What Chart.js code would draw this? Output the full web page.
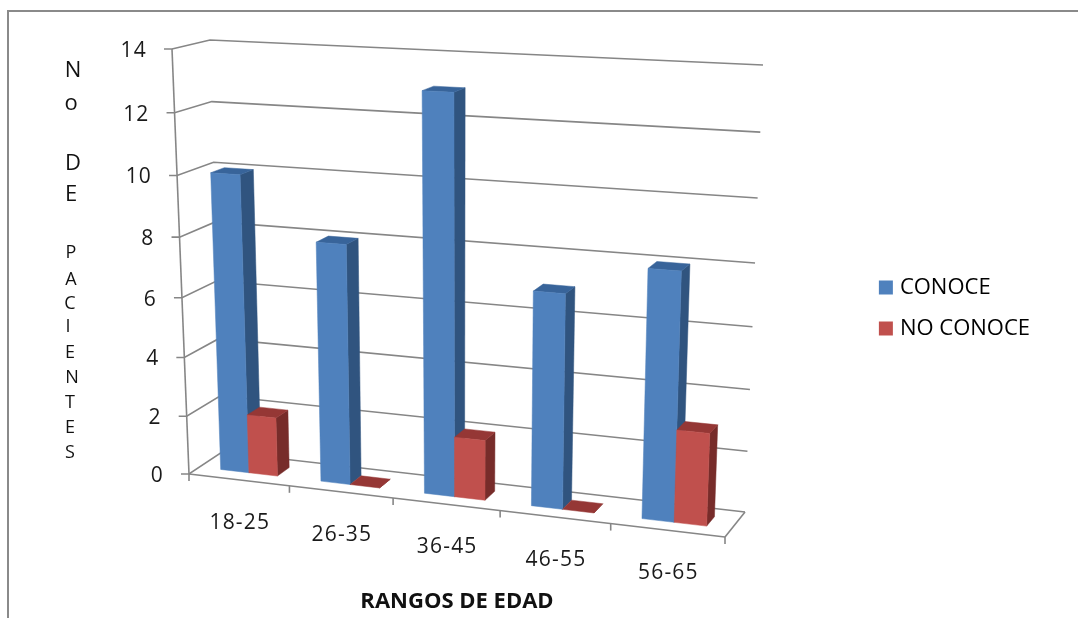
<!DOCTYPE html>
<html>
<head>
<meta charset="utf-8">
<script src="https://cdn.jsdelivr.net/npm/chart.js@4/dist/chart.umd.js"></script>
<style>
html,body{margin:0;padding:0;background:#fff;width:1078px;height:618px;overflow:hidden}
#wrap{position:absolute;left:0;top:0;width:1078px;height:618px}
canvas{filter:blur(0.45px)}
</style>
</head>
<body>
<div id="wrap"><canvas id="c" width="1078" height="618"></canvas></div>
<script>
const categories = ['18-25','26-35','36-45','46-55','56-65'];
const conoce = [10, 8, 13, 7, 8];
const noConoce = [2, 0, 2, 0, 3];
const seriesNames = ['CONOCE','NO CONOCE'];
const yTitleLetters = ['N','o','D','E','P','A','C','I','E','N','T','E','S'];
const xTitle = 'RANGOS DE EDAD';

const FONT = '"Open Sans", sans-serif';
const TEXT = '#1a1a1a';
const GRID = '#868686';
const FACE = ['#4F81BD','#C0504D'];
const TOP  = ['#38649A','#953735'];
const SIDE = ['#30547F','#772C2A'];

// camera calibration of the 3D box: corners as (u,v) on the front and back planes
const frontPlane = [[189,474],[725,537],[741,78],[172,49]];
const backPlane  = [[222,452],[745,512],[763,65],[210,40]];
const barZ = [0.32, 0.70];
const yLetterPos = [[73,71,22],[71,104,22],[73,164,22],[71,195,22],[71,253,18],[71,280,18],[70,304,18],[68,327,18],[70,353,18],[72,378,18],[70,403,18],[70,428,18],[70,453,18]];

function homography(q){
  const [x0,y0]=q[0],[x1,y1]=q[1],[x2,y2]=q[2],[x3,y3]=q[3];
  const dx1=x1-x2,dx2=x3-x2,sx=x0-x1+x2-x3,dy1=y1-y2,dy2=y3-y2,sy=y0-y1+y2-y3;
  const den=dx1*dy2-dx2*dy1;
  const g=(sx*dy2-dx2*sy)/den,h=(dx1*sy-sx*dy1)/den;
  const a=x1-x0+g*x1,b=x3-x0+h*x3,d=y1-y0+g*y1,e=y3-y0+h*y3;
  return (u,v)=>{const w=g*u+h*v+1;return [(a*u+b*v+x0)/w,(d*u+e*v+y0)/w];};
}
const Hf=homography(frontPlane),Hb=homography(backPlane);
function P(u,v,z){const f=Hf(u,v),b=Hb(u,v);return [f[0]+(b[0]-f[0])*z,f[1]+(b[1]-f[1])*z];}

function line(ctx,a,b,w,col){ctx.beginPath();ctx.moveTo(a[0],a[1]);ctx.lineTo(b[0],b[1]);ctx.lineWidth=w;ctx.strokeStyle=col||GRID;ctx.stroke();}
function poly(ctx,pts,col){ctx.beginPath();pts.forEach((p,i)=>i?ctx.lineTo(p[0],p[1]):ctx.moveTo(p[0],p[1]));ctx.closePath();ctx.fillStyle=col;ctx.fill();ctx.strokeStyle=col;ctx.lineWidth=0.5;ctx.stroke();}

const box3d={
  id:'box3d',
  beforeDatasetsDraw(chart){
    const ctx=chart.ctx,xs=chart.scales.x,ys=chart.scales.y;
    const vOf=px=>(ys.bottom-px)/(ys.bottom-ys.top);
    ctx.save();
    // outer frame
    line(ctx,[8,11],[1078,11],2,'#8a8a8a');
    line(ctx,[8,10],[8,618],2,'#8a8a8a');
    ctx.letterSpacing='1.2px';
    // walls
    ys.ticks.forEach((t,i)=>{
      const v=vOf(ys.getPixelForTick(i));
      const a=P(0,v,0),b=P(0,v,1),c=P(1,v,1);
      ctx.beginPath();ctx.moveTo(a[0]-8,a[1]);ctx.lineTo(a[0],a[1]);ctx.lineTo(b[0],b[1]);ctx.lineTo(c[0],c[1]);
      ctx.lineWidth=1.6;ctx.strokeStyle=GRID;ctx.stroke();
      ctx.fillStyle=TEXT;ctx.font='21px '+FONT;ctx.textAlign='right';ctx.textBaseline='middle';
      ctx.fillText(t.label,a[0]-25,a[1]+2);
    });
    // floor and axes
    line(ctx,P(0,0,0),P(0,1,0),1.6);
    line(ctx,P(0,0,0),P(1,0,0),1.6);
    line(ctx,P(1,0,0),P(1,0,1),1.6);
    const n=categories.length;
    for(let i=0;i<=n;i++){
      const u=i/n,a=P(u,0,0);
      line(ctx,a,[a[0],a[1]+7],1.6);
    }
    xs.ticks.forEach((t,i)=>{
      const u=(xs.getPixelForTick(i)-xs.left)/(xs.right-xs.left),a=P(u,0,0);
      ctx.fillStyle=TEXT;ctx.font='21px '+FONT;ctx.textAlign='center';ctx.textBaseline='middle';
      ctx.fillText(t.label,a[0]+1,a[1]+43);
    });
    ctx.letterSpacing='0px';
    // axis titles
    ctx.fillStyle='#111';ctx.textAlign='center';ctx.textBaseline='middle';
    yTitleLetters.forEach((ch,i)=>{const p=yLetterPos[i];ctx.font=p[2]+'px '+FONT;ctx.fillText(ch,p[0],p[1]);});
    ctx.font='bold 22px '+FONT;ctx.fillText(xTitle,457,602);
    ctx.restore();
  },
  beforeDatasetDraw(){return false;},
  afterDatasetsDraw(chart){
    const ctx=chart.ctx,xs=chart.scales.x,ys=chart.scales.y;
    const uOf=px=>(px-xs.left)/(xs.right-xs.left),vOf=px=>(ys.bottom-px)/(ys.bottom-ys.top);
    ctx.save();
    categories.forEach((_,i)=>{
      chart.data.datasets.forEach((ds,k)=>{
        const el=chart.getDatasetMeta(k).data[i];
        const u0=uOf(el.x-el.width/2),u1=uOf(el.x+el.width/2),v=vOf(el.y);
        const [z0,z1]=barZ;
        poly(ctx,[P(u1,0,z0),P(u1,0,z1),P(u1,v,z1),P(u1,v,z0)],SIDE[k]);
        poly(ctx,[P(u0,v,z0),P(u1,v,z0),P(u1,v,z1),P(u0,v,z1)],TOP[k]);
        if(v>0) poly(ctx,[P(u0,0,z0),P(u1,0,z0),P(u1,v,z0),P(u0,v,z0)],FACE[k]);
      });
    });
    ctx.restore();
  }
};

new Chart(document.getElementById('c'),{
  type:'bar',
  data:{labels:categories,datasets:[
    {label:seriesNames[0],data:conoce,backgroundColor:FACE[0],borderWidth:0,categoryPercentage:0.57,barPercentage:1},
    {label:seriesNames[1],data:noConoce,backgroundColor:FACE[1],borderWidth:0,categoryPercentage:0.57,barPercentage:1}
  ]},
  plugins:[box3d],
  options:{
    responsive:false,animation:false,
    layout:{padding:{left:0,right:38,top:0,bottom:2}},
    plugins:{
      title:{display:false},tooltip:{enabled:false},
      legend:{display:true,position:'right',align:'center',
        labels:{boxWidth:6,boxHeight:6,padding:19,color:TEXT,font:{family:'Open Sans',size:22},
          generateLabels(chart){
            return chart.data.datasets.map((d,i)=>({text:d.label,fillStyle:FACE[i],strokeStyle:FACE[i],lineWidth:8,datasetIndex:i,hidden:false}));
          }}}
    },
    scales:{
      x:{grid:{display:false},border:{display:false},ticks:{display:false}},
      y:{min:0,max:14,ticks:{display:false,stepSize:2},grid:{display:false},border:{display:false}}
    }
  }
});
</script>
</body>
</html>
